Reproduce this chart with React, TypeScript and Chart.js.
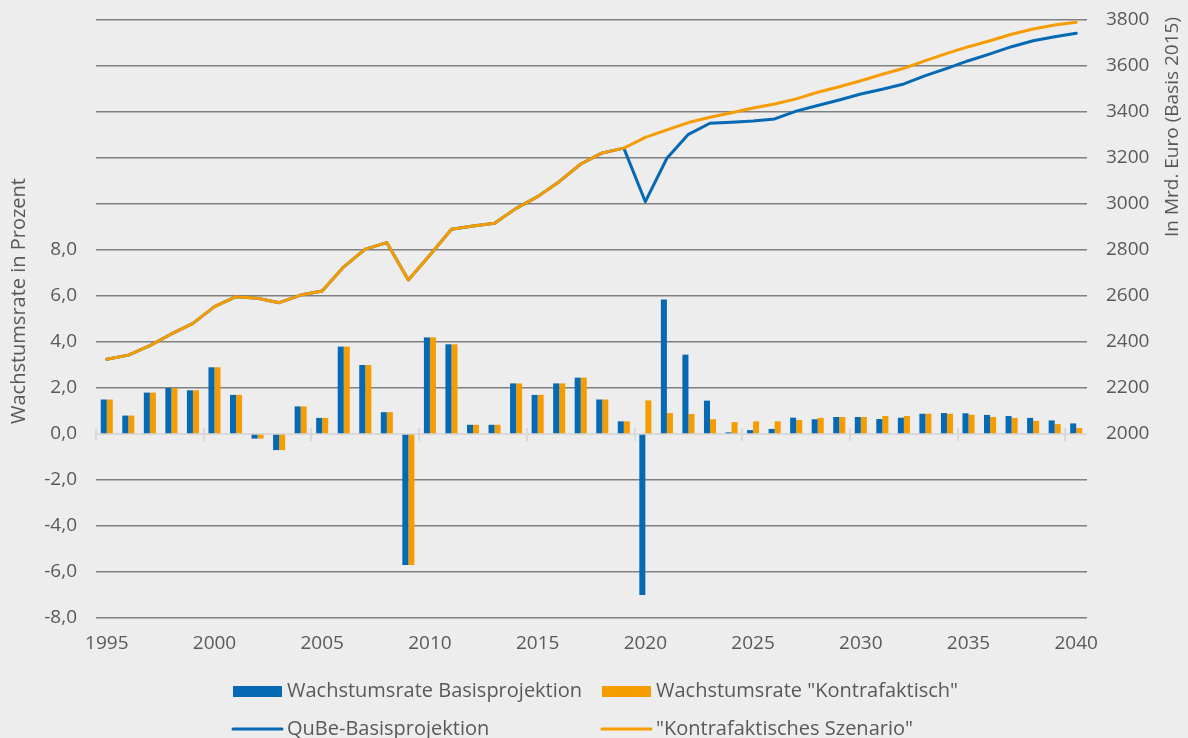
import { useEffect, useRef } from 'react';
import { Chart, registerables } from 'chart.js';

Chart.register(...registerables);

const FONT = '"Open Sans", "Noto Sans", sans-serif';
const TEXT = '#595959';
const BLUE = '#0569b3';
const ORANGE = '#f59c00';
const GRID = '#808080';
const BG = '#ededed';

const years = [
  '1995', '1996', '1997', '1998', '1999', '2000', '2001', '2002', '2003', '2004',
  '2005', '2006', '2007', '2008', '2009', '2010', '2011', '2012', '2013', '2014',
  '2015', '2016', '2017', '2018', '2019', '2020', '2021', '2022', '2023', '2024',
  '2025', '2026', '2027', '2028', '2029', '2030', '2031', '2032', '2033', '2034',
  '2035', '2036', '2037', '2038', '2039', '2040',
];

const growthBase = [
  1.5, 0.8, 1.8, 2.0, 1.9, 2.9, 1.7, -0.2, -0.7, 1.2,
  0.7, 3.8, 3.0, 0.95, -5.7, 4.2, 3.9, 0.4, 0.4, 2.2,
  1.7, 2.2, 2.45, 1.5, 0.55, -7.0, 5.85, 3.45, 1.45, 0.07,
  0.17, 0.22, 0.71, 0.64, 0.74, 0.74, 0.65, 0.71, 0.88, 0.91,
  0.9, 0.83, 0.78, 0.7, 0.59, 0.46,
];

const growthKontra = [
  1.5, 0.8, 1.8, 2.0, 1.9, 2.9, 1.7, -0.2, -0.7, 1.2,
  0.7, 3.8, 3.0, 0.95, -5.7, 4.2, 3.9, 0.4, 0.4, 2.2,
  1.7, 2.2, 2.45, 1.5, 0.55, 1.46, 0.91, 0.87, 0.64, 0.52,
  0.55, 0.55, 0.61, 0.7, 0.74, 0.74, 0.78, 0.78, 0.88, 0.88,
  0.84, 0.74, 0.7, 0.57, 0.43, 0.26,
];

const levelBase = [
  2325, 2343, 2384, 2435, 2481, 2554, 2597, 2590, 2571, 2604,
  2622, 2727, 2804, 2832, 2670, 2778, 2890, 2904, 2916, 2981,
  3032, 3097, 3174, 3222, 3243, 3010, 3199, 3303, 3351, 3355,
  3361, 3370, 3404, 3428, 3452, 3478, 3499, 3522, 3558, 3590,
  3623, 3653, 3684, 3710, 3727, 3742,
];

const levelKontra = [
  2325, 2343, 2384, 2435, 2481, 2554, 2597, 2590, 2571, 2604,
  2622, 2727, 2804, 2832, 2670, 2778, 2890, 2904, 2916, 2981,
  3032, 3097, 3174, 3222, 3243, 3290, 3322, 3354, 3377, 3397,
  3417, 3435, 3457, 3486, 3510, 3536, 3564, 3590, 3623, 3655,
  3684, 3710, 3738, 3761, 3778, 3790,
];

const seriesNames = [
  'Wachstumsrate Basisprojektion',
  'Wachstumsrate "Kontrafaktisch"',
  'QuBe-Basisprojektion',
  '"Kontrafaktisches Szenario"',
];

const leftTitle = 'Wachstumsrate in Prozent';
const rightTitle = 'In Mrd. Euro (Basis 2015)';

export default function App() {
  const ref = useRef<HTMLCanvasElement>(null);

  useEffect(() => {
    document.body.style.margin = '0';
    document.body.style.background = BG;
    if (!ref.current) return;

    const zeroLine = {
      id: 'zeroLine',
      beforeDatasetsDraw(chart: any) {
        const { ctx, chartArea } = chart;
        const y = chart.scales.y.getPixelForValue(0);
        const xs = chart.scales.x;
        const step = xs.getPixelForTick(1) - xs.getPixelForTick(0);
        ctx.save();
        ctx.strokeStyle = '#d9d9d9';
        ctx.lineWidth = 2;
        ctx.beginPath();
        ctx.moveTo(chartArea.left, y);
        ctx.lineTo(chartArea.right, y);
        ctx.stroke();
        for (let i = 0; i < years.length; i += 5) {
          const x = Math.round(xs.getPixelForTick(i) - step / 2);
          ctx.beginPath();
          ctx.moveTo(x, y - 6);
          ctx.lineTo(x, y + 7);
          ctx.stroke();
        }
        ctx.restore();
      },
    };

    const extras = {
      id: 'extras',
      afterDraw(chart: any) {
        const { ctx } = chart;
        ctx.save();
        ctx.fillStyle = TEXT;
        ctx.textBaseline = 'middle';
        ctx.textAlign = 'center';
        // axis titles
        ctx.font = `20px ${FONT}`;
        ctx.save();
        ctx.translate(19, 301);
        ctx.rotate(-Math.PI / 2);
        ctx.fillText(leftTitle, 0, 0);
        ctx.restore();
        ctx.font = `19px ${FONT}`;
        ctx.save();
        ctx.translate(1173, 127);
        ctx.rotate(-Math.PI / 2);
        ctx.fillText(rightTitle, 0, 0);
        ctx.restore();

        // legend
        ctx.font = `20px ${FONT}`;
        ctx.textAlign = 'left';
        ctx.fillStyle = BLUE;
        ctx.fillRect(233, 686, 49, 11);
        ctx.fillStyle = ORANGE;
        ctx.fillRect(602, 686, 49, 11);
        ctx.lineWidth = 3;
        ctx.lineCap = 'round';
        ctx.strokeStyle = BLUE;
        ctx.beginPath();
        ctx.moveTo(233, 729);
        ctx.lineTo(282, 729);
        ctx.stroke();
        ctx.strokeStyle = ORANGE;
        ctx.beginPath();
        ctx.moveTo(602, 729);
        ctx.lineTo(651, 729);
        ctx.stroke();
        ctx.fillStyle = TEXT;
        ctx.fillText(seriesNames[0], 287, 691);
        ctx.fillText(seriesNames[1], 656, 691);
        ctx.fillText(seriesNames[2], 287, 729);
        ctx.fillText(seriesNames[3], 656, 729);
        ctx.restore();
      },
    };

    const chart = new Chart(ref.current, {
      type: 'bar',
      data: {
        labels: years,
        datasets: [
          {
            type: 'line',
            label: seriesNames[3],
            data: levelKontra,
            yAxisID: 'y2',
            borderColor: ORANGE,
            borderWidth: 3,
            pointRadius: 0,
            tension: 0,
            borderCapStyle: 'round',
            borderJoinStyle: 'round',
            order: 0,
          },
          {
            type: 'line',
            label: seriesNames[2],
            data: levelBase,
            yAxisID: 'y2',
            borderColor: BLUE,
            borderWidth: 3,
            pointRadius: 0,
            tension: 0,
            borderCapStyle: 'round',
            borderJoinStyle: 'round',
            order: 1,
          },
          {
            type: 'bar',
            label: seriesNames[0],
            data: growthBase,
            yAxisID: 'y',
            backgroundColor: BLUE,
            categoryPercentage: 0.56,
            barPercentage: 1,
            order: 2,
          },
          {
            type: 'bar',
            label: seriesNames[1],
            data: growthKontra,
            yAxisID: 'y',
            backgroundColor: ORANGE,
            categoryPercentage: 0.56,
            barPercentage: 1,
            order: 3,
          },
        ],
      } as any,
      options: {
        animation: false,
        responsive: true,
        maintainAspectRatio: false,
        layout: { padding: { top: 20, bottom: 80, left: 0, right: 0 } },
        plugins: {
          legend: { display: false },
          tooltip: { enabled: false },
        },
        scales: {
          x: {
            offset: true,
            grid: { display: false, drawTicks: false },
            border: { display: false },
            ticks: {
              autoSkip: false,
              maxRotation: 0,
              padding: 14,
              color: TEXT,
              font: { family: FONT, size: 19 },
              callback: (_v: any, i: number) => (i % 5 === 0 ? years[i] : ''),
            },
            afterFit: (s: any) => {
              s.height = 40;
              s.paddingLeft = 0;
              s.paddingRight = 0;
            },
          },
          y: {
            position: 'left',
            min: -8,
            max: 18,
            border: { display: false },
            grid: {
              drawTicks: false,
              lineWidth: 1.5,
              color: (c: any) => (c.tick && c.tick.value === 0 ? 'rgba(0,0,0,0)' : GRID),
            },
            ticks: {
              stepSize: 2,
              padding: 19,
              color: TEXT,
              font: { family: FONT, size: 19 },
              callback: (v: any) => (v <= 8 ? Number(v).toFixed(1).replace('.', ',') : ''),
            },
            afterFit: (s: any) => {
              s.width = 96;
              s.paddingTop = 0;
              s.paddingBottom = 0;
            },
          },
          y2: {
            position: 'right',
            min: 1200,
            max: 3800,
            border: { display: false },
            grid: { display: false, drawTicks: false },
            ticks: {
              stepSize: 200,
              padding: 19,
              color: TEXT,
              font: { family: FONT, size: 19 },
              callback: (v: any) => (v >= 2000 ? String(v) : ''),
            },
            afterFit: (s: any) => {
              s.width = 101;
              s.paddingTop = 0;
              s.paddingBottom = 0;
            },
          },
        },
      } as any,
      plugins: [zeroLine, extras],
    });

    return () => chart.destroy();
  }, []);

  return (
    <div style={{ width: 1188, height: 738, position: 'relative', background: BG, overflow: 'hidden' }}>
      <canvas ref={ref} />
    </div>
  );
}
